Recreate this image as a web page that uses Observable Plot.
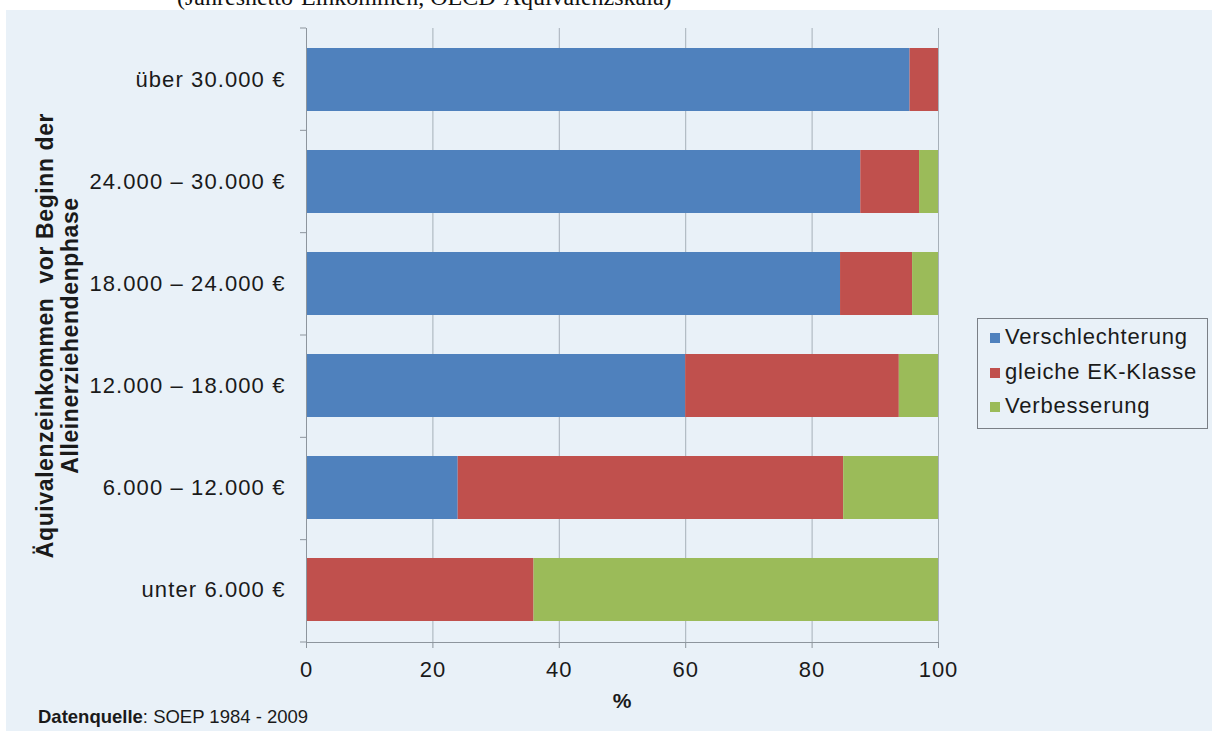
<!DOCTYPE html>
<html>
<head>
<meta charset="utf-8">
<script src="https://cdn.jsdelivr.net/npm/d3@7"></script>
<script src="https://cdn.jsdelivr.net/npm/@observablehq/plot@0.6"></script>
<style>
  html, body { margin: 0; padding: 0; background: #ffffff; overflow: hidden; }
  #page { position: relative; width: 1212px; height: 731px; overflow: hidden; font-family: "Liberation Sans", Arial, sans-serif; }
  #panel { position: absolute; left: 6px; top: 10px; right: -20px; bottom: -20px; background: #e9f1f8; }
  #title { position: absolute; left: 177px; top: -14px; font-family: "Liberation Serif", "Times New Roman", serif; font-size: 24px; line-height: 22px; color: #111; white-space: nowrap; }
  #chart { position: absolute; left: 0; top: 0; }
  #legend { position: absolute; left: 977px; top: 318px; width: 229px; height: 109px; border: 1px solid #7a7f86; box-sizing: content-box; }
  .item { position: absolute; left: 12px; font-size: 22px; letter-spacing: 0.8px; color: #1a1a1a; white-space: nowrap; line-height: 24px; }
  .sw { display: inline-block; width: 10px; height: 10px; margin-right: 5px; vertical-align: 1px; }
  #caption { position: absolute; left: 38px; top: 706px; font-size: 18.5px; color: #1a1a1a; white-space: nowrap; }
</style>
</head>
<body>
<div id="page">
  <div id="panel"></div>
  <div id="title"></div>
  <div id="chart"></div>
  <div id="legend"></div>
  <div id="caption"></div>
</div>
<script>
// ---- data ----
const categories = ["über 30.000 €", "24.000 – 30.000 €", "18.000 – 24.000 €", "12.000 – 18.000 €", "6.000 – 12.000 €", "unter 6.000 €"];
const series = ["Verschlechterung", "gleiche EK-Klasse", "Verbesserung"];
const verschlechterung = [95.5, 87.7, 84.5, 60.0, 24.0, 0.0];
const gleicheKlasse = [4.5, 9.3, 11.4, 33.8, 61.0, 36.0];
const verbesserung = [0.0, 3.0, 4.1, 6.2, 15.0, 64.0];
const colors = ["#4f81bd", "#c0504d", "#9bbb59"];
const xTicks = [0, 20, 40, 60, 80, 100];
const titleText = "(Jahresnetto-Einkommen, OECD-Äquivalenzskala)";
const yTitle = "Äquivalenzeinkommen  vor Beginn der\nAlleinerziehendenphase";
const xTitle = "%";
const captionBold = "Datenquelle";
const captionRest = ": SOEP 1984 - 2009";

const seriesValues = [verschlechterung, gleicheKlasse, verbesserung];
const rows = [];
categories.forEach((c, i) => {
  series.forEach((s, j) => rows.push({category: c, series: s, value: seriesValues[j][i]}));
});

const axisGray = "#8d959d";
const gridGray = "#a7b0b9";
const textColor = "#1a1a1a";

// separators between category slots (Excel-style category ticks)
function separators(index, scales, values, dimensions) {
  const top = dimensions.marginTop;
  const bottom = dimensions.height - dimensions.marginBottom;
  const left = dimensions.marginLeft;
  const n = categories.length;
  const step = (bottom - top) / n;
  const g = d3.create("svg:g");
  for (let i = 0; i <= n; i++) {
    g.append("line")
      .attr("x1", left - 6).attr("x2", left)
      .attr("y1", top + i * step).attr("y2", top + i * step)
      .attr("stroke", axisGray).attr("stroke-width", 1);
  }
  return g.node();
}

const chart = Plot.plot({
  width: 1212,
  height: 731,
  marginLeft: 306,
  marginRight: 274,
  marginTop: 28,
  marginBottom: 89,
  style: {background: "transparent", fontFamily: "'Liberation Sans', Arial, sans-serif", color: textColor},
  x: {domain: [0, 100], axis: null},
  y: {domain: categories, axis: null, paddingInner: 0.38, paddingOuter: 0.19},
  color: {domain: series, range: colors},
  marks: [
    Plot.ruleX(xTicks.filter(d => d > 0), {stroke: gridGray, strokeWidth: 1}),
    Plot.barX(rows, Plot.stackX({y: "category", x: "value", fill: "series", order: series})),
    Plot.ruleX([0], {stroke: axisGray, strokeWidth: 1}),
    Plot.frame({anchor: "bottom", stroke: axisGray, strokeWidth: 1}),
    separators,
    Plot.axisX({ticks: xTicks, tickSize: 6, tickPadding: 13, stroke: axisGray, fill: textColor, fontSize: 22, label: null, tickFormat: d => String(d)}),
    Plot.axisY({tickSize: 0, tickPadding: 21, fill: textColor, fontSize: 22, label: null}),
    Plot.text([xTitle], {frameAnchor: "bottom", dy: 65, fontSize: 21, fontWeight: "bold", fill: textColor}),
    Plot.text([yTitle], {frameAnchor: "left", textAnchor: "middle", dx: -249, rotate: -90, fontSize: 23, fontWeight: "bold", fill: textColor, lineHeight: 1.08})
  ]
});
document.getElementById("chart").appendChild(chart);

// widen letter spacing to match the horizontally stretched reference lettering
const svg = d3.select(chart);
svg.selectAll('g[aria-label="y-axis tick label"] text').style("letter-spacing", "1.1px");
svg.selectAll('g[aria-label="x-axis tick label"] text').style("letter-spacing", "1px");
svg.selectAll('g[aria-label="text"] text').style("letter-spacing", "0.6px");

document.getElementById("title").textContent = titleText;

const legend = document.getElementById("legend");
series.forEach((s, i) => {
  const item = document.createElement("div");
  item.className = "item";
  item.style.top = (6 + i * 34.5) + "px";
  const sw = document.createElement("span");
  sw.className = "sw";
  sw.style.background = colors[i];
  item.appendChild(sw);
  item.appendChild(document.createTextNode(s));
  legend.appendChild(item);
});

const cap = document.getElementById("caption");
const b = document.createElement("b");
b.textContent = captionBold;
cap.appendChild(b);
cap.appendChild(document.createTextNode(captionRest));
</script>
</body>
</html>
